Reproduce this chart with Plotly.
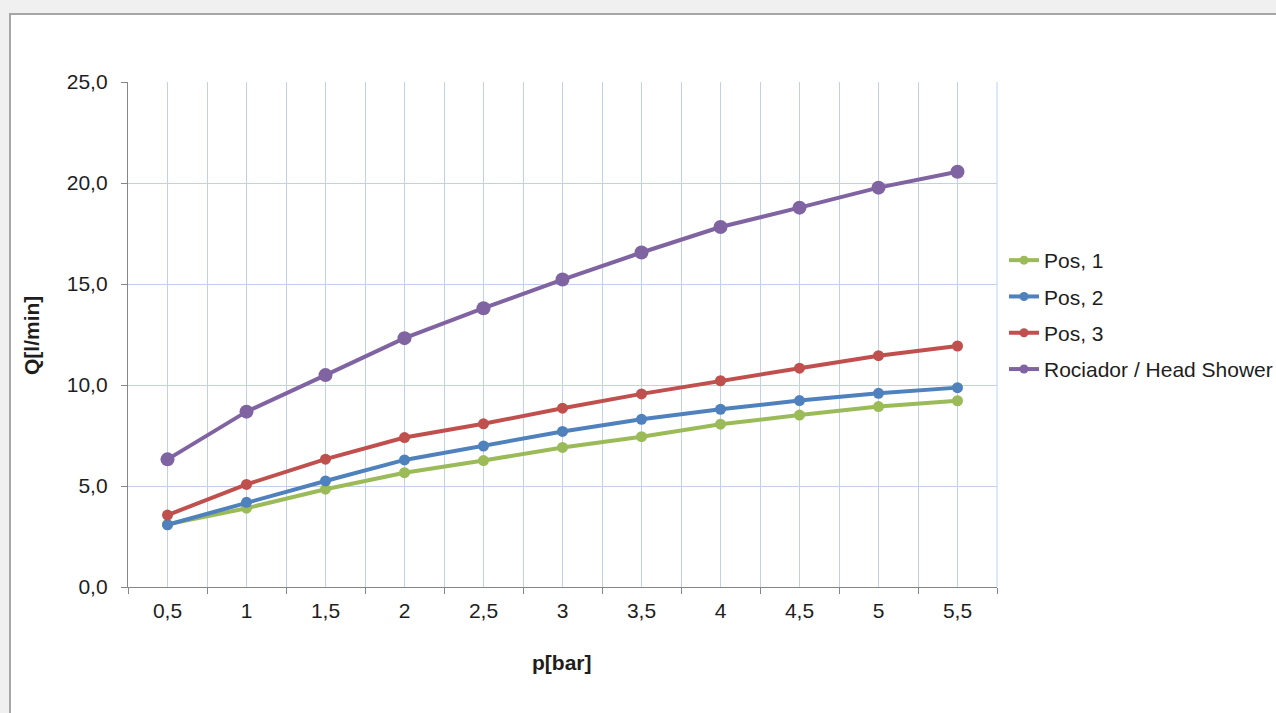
import plotly.graph_objects as go

pressure = [0.5, 1, 1.5, 2, 2.5, 3, 3.5, 4, 4.5, 5, 5.5]
pos1 = [3.10, 3.90, 4.84, 5.66, 6.26, 6.91, 7.44, 8.06, 8.51, 8.93, 9.22]
pos2 = [3.08, 4.19, 5.25, 6.29, 6.98, 7.70, 8.30, 8.80, 9.23, 9.59, 9.87]
pos3 = [3.56, 5.08, 6.33, 7.40, 8.08, 8.85, 9.56, 10.21, 10.83, 11.45, 11.93]
head = [6.32, 8.68, 10.49, 12.32, 13.80, 15.22, 16.56, 17.82, 18.78, 19.77, 20.56]

series_names = ["Pos, 1", "Pos, 2", "Pos, 3", "Rociador / Head Shower"]
series_values = [pos1, pos2, pos3, head]
colors = ["#9BBB59", "#4F81BD", "#C0504D", "#8064A2"]
marker_sizes = [11, 11, 11, 14]

# plot-area pixel geometry
W, H = 1276, 713
L, R, T, B = 128, 997, 82, 587
pw, ph = R - L, B - T

def px_x(x):
    return (x - L) / pw

def px_y(y):
    return (B - y) / ph

fig = go.Figure()
for i, (name, vals, col, ms) in enumerate(zip(series_names, series_values, colors, marker_sizes)):
    fig.add_trace(go.Scatter(
        x=pressure, y=vals, name=name, mode="lines+markers",
        line=dict(color=col, width=4),
        marker=dict(color=col, size=ms),
        legendgroup=f"g{i}", showlegend=False,
    ))
# legend entries (smaller legend markers, as in the reference)
for i, (name, col) in enumerate(zip(series_names, colors)):
    fig.add_trace(go.Scatter(
        x=[None], y=[None], name=name, mode="lines+markers",
        line=dict(color=col, width=4),
        marker=dict(color=col, size=9),
        legendgroup=f"g{i}", showlegend=True,
    ))

grid_col = "#C0D1EE"
axis_col = "#868686"
txt_col = "#1E1E1E"
font_family = "Liberation Sans, Arial, sans-serif"
fs = 21

fig.update_layout(
    width=W, height=H,
    margin=dict(l=L, r=W - R, t=T, b=H - B, autoexpand=False),
    paper_bgcolor="#F0F0F0",
    plot_bgcolor="white",
    separators=",.",
    font=dict(family=font_family, size=fs, color=txt_col),
    showlegend=True,
    legend=dict(
        x=px_x(1004), xanchor="left",
        y=px_y(315), yanchor="middle",
        bgcolor="rgba(0,0,0,0)",
        font=dict(size=fs, color=txt_col),
        tracegroupgap=6,
        itemwidth=30,
    ),
    xaxis=dict(
        range=[0.25, 5.75],
        tickmode="array",
        tickvals=pressure,
        ticktext=[("%g" % v).replace(".", ",") for v in pressure],
        ticks="",
        showgrid=True, gridcolor=grid_col, gridwidth=1,
        showline=True, linecolor=axis_col, linewidth=1.3,
        zeroline=False,
        ticklabelstandoff=5,
        minor=dict(
            tickmode="linear", tick0=0.25, dtick=0.5,
            ticks="outside", ticklen=6, tickcolor=axis_col,
            showgrid=True, gridcolor=grid_col, gridwidth=1,
        ),
        tickfont=dict(size=fs, color=txt_col),
    ),
    yaxis=dict(
        range=[0, 25],
        tick0=0, dtick=5,
        tickformat=".1f",
        ticks="outside", ticklen=6, tickcolor=axis_col,
        showgrid=True, gridcolor=grid_col, gridwidth=1,
        showline=True, linecolor=axis_col, linewidth=1.3,
        zeroline=False,
        ticklabelstandoff=9,
        tickfont=dict(size=fs, color=txt_col),
    ),
    shapes=[
        dict(type="rect", xref="paper", yref="paper", layer="below",
             x0=px_x(10), x1=px_x(1290), y0=px_y(730), y1=px_y(14),
             fillcolor="white", line=dict(color="#A6A6A6", width=2)),
        dict(type="line", xref="paper", yref="paper", layer="below",
             x0=1, x1=1, y0=0, y1=1, line=dict(color=grid_col, width=1)),
    ],
    annotations=[
        dict(text="<b>p[bar]</b>", xref="paper", yref="paper",
             x=px_x(562), y=px_y(662), showarrow=False,
             xanchor="center", yanchor="middle",
             font=dict(size=fs, color=txt_col)),
        dict(text="<b>Q[l/min]</b>", xref="paper", yref="paper",
             x=px_x(31), y=px_y(336), showarrow=False, textangle=-90,
             xanchor="center", yanchor="middle",
             font=dict(size=fs, color=txt_col)),
    ],
)

fig.write_html(
    "out.html",
    config={"displayModeBar": False},
    post_script="document.body.style.margin='0';document.body.style.background='#F0F0F0';document.body.style.overflow='hidden';",
)
